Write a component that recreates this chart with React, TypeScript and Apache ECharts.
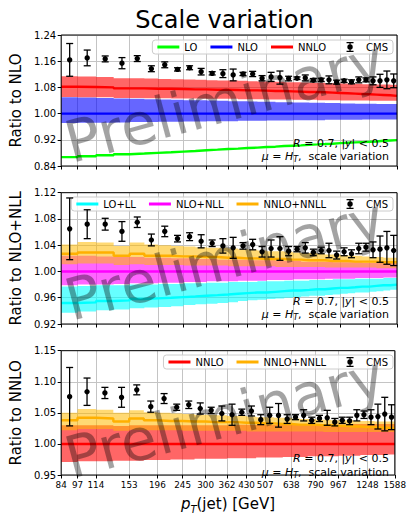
import React, { useEffect, useRef } from 'react';
import * as echarts from 'echarts';

// ---------- data ----------
const ptEdges = [84, 97, 114, 133, 153, 174, 196, 220, 245, 272, 300, 330, 362, 395, 430, 468, 507, 548, 592, 638, 686, 737, 790, 846, 905, 967, 1032, 1101, 1172, 1248, 1327, 1410, 1497, 1588];
const tickLabels = [84, 97, 114, 153, 196, 245, 300, 362, 430, 507, 638, 790, 967, 1248, 1588];

// Panel 1: ratio to NLO
const cms1 = [1.164, 1.170, 1.167, 1.154, 1.168, 1.137, 1.149, 1.135, 1.140, 1.128, 1.123, 1.122, 1.118, 1.121, 1.121, 1.108, 1.112, 1.110, 1.107, 1.108, 1.109, 1.102, 1.103, 1.103, 1.096, 1.100, 1.097, 1.103, 1.103, 1.100, 1.100, 1.103, 1.100];
const cms1Err = [0.050, 0.024, 0.009, 0.017, 0.009, 0.009, 0.009, 0.005, 0.006, 0.010, 0.005, 0.012, 0.018, 0.005, 0.008, 0.008, 0.014, 0.020, 0.007, 0.004, 0.009, 0.005, 0.005, 0.012, 0.006, 0.005, 0.006, 0.009, 0.006, 0.012, 0.020, 0.027, 0.021];
const lo1 = [0.867, 0.870, 0.873, 0.876, 0.878, 0.880, 0.882, 0.884, 0.886, 0.888, 0.890, 0.892, 0.893, 0.895, 0.896, 0.898, 0.899, 0.901, 0.902, 0.903, 0.905, 0.906, 0.907, 0.908, 0.910, 0.911, 0.912, 0.913, 0.914, 0.915, 0.917, 0.918, 0.919];
const nlo1 = [1.000, 1.000, 1.000, 1.000, 1.000, 1.000, 1.000, 1.000, 1.000, 1.000, 1.000, 1.000, 1.000, 1.000, 1.000, 1.000, 1.000, 1.000, 1.000, 1.000, 1.000, 1.000, 1.000, 1.000, 1.000, 1.000, 1.000, 1.000, 1.000, 1.000, 1.000, 1.000, 1.000];
const nlo1Hi = [1.050, 1.049, 1.048, 1.046, 1.045, 1.044, 1.043, 1.042, 1.041, 1.041, 1.040, 1.039, 1.038, 1.038, 1.037, 1.036, 1.036, 1.035, 1.035, 1.034, 1.034, 1.033, 1.033, 1.032, 1.032, 1.031, 1.031, 1.030, 1.030, 1.030, 1.029, 1.029, 1.029];
const nlo1Lo = [0.971, 0.972, 0.972, 0.973, 0.974, 0.974, 0.975, 0.975, 0.976, 0.976, 0.977, 0.977, 0.977, 0.978, 0.978, 0.978, 0.979, 0.979, 0.979, 0.980, 0.980, 0.980, 0.980, 0.981, 0.981, 0.981, 0.981, 0.981, 0.982, 0.982, 0.982, 0.982, 0.982];
const nnlo1 = [1.082, 1.081, 1.080, 1.077, 1.077, 1.076, 1.076, 1.075, 1.074, 1.074, 1.073, 1.073, 1.072, 1.071, 1.071, 1.070, 1.069, 1.069, 1.068, 1.067, 1.066, 1.066, 1.065, 1.064, 1.063, 1.062, 1.061, 1.060, 1.059, 1.058, 1.057, 1.056, 1.054];
const nnlo1Hi = [1.114, 1.113, 1.112, 1.108, 1.108, 1.107, 1.106, 1.105, 1.104, 1.103, 1.102, 1.101, 1.101, 1.100, 1.099, 1.098, 1.098, 1.097, 1.096, 1.096, 1.095, 1.094, 1.094, 1.093, 1.093, 1.092, 1.091, 1.091, 1.090, 1.090, 1.089, 1.089, 1.088];
const nnlo1Lo = [1.051, 1.050, 1.050, 1.048, 1.048, 1.047, 1.047, 1.046, 1.046, 1.046, 1.045, 1.045, 1.045, 1.044, 1.044, 1.044, 1.043, 1.043, 1.043, 1.042, 1.042, 1.042, 1.041, 1.041, 1.041, 1.040, 1.040, 1.040, 1.040, 1.039, 1.039, 1.039, 1.039];

// Panel 2: ratio to NLO+NLL
const cms2 = [1.065, 1.072, 1.072, 1.061, 1.075, 1.048, 1.061, 1.050, 1.053, 1.046, 1.043, 1.039, 1.036, 1.039, 1.041, 1.030, 1.035, 1.035, 1.031, 1.034, 1.036, 1.029, 1.032, 1.032, 1.025, 1.030, 1.027, 1.035, 1.037, 1.033, 1.034, 1.036, 1.032];
const cms2Err = [0.047, 0.022, 0.009, 0.015, 0.008, 0.009, 0.008, 0.005, 0.006, 0.010, 0.005, 0.011, 0.016, 0.005, 0.008, 0.008, 0.013, 0.018, 0.007, 0.004, 0.008, 0.005, 0.005, 0.011, 0.006, 0.006, 0.006, 0.008, 0.006, 0.012, 0.020, 0.025, 0.023];
const ll2 = [0.952, 0.953, 0.955, 0.956, 0.958, 0.959, 0.960, 0.961, 0.962, 0.963, 0.964, 0.965, 0.966, 0.967, 0.968, 0.968, 0.969, 0.970, 0.971, 0.971, 0.972, 0.973, 0.973, 0.974, 0.975, 0.975, 0.976, 0.977, 0.977, 0.978, 0.979, 0.979, 0.980];
const ll2Hi = [0.977, 0.978, 0.979, 0.979, 0.980, 0.980, 0.981, 0.981, 0.982, 0.982, 0.983, 0.983, 0.984, 0.984, 0.984, 0.985, 0.985, 0.985, 0.986, 0.986, 0.986, 0.987, 0.987, 0.987, 0.988, 0.988, 0.988, 0.989, 0.989, 0.989, 0.989, 0.990, 0.990];
const ll2Lo = [0.937, 0.939, 0.941, 0.942, 0.944, 0.945, 0.946, 0.947, 0.949, 0.950, 0.951, 0.952, 0.953, 0.955, 0.956, 0.957, 0.958, 0.959, 0.960, 0.961, 0.962, 0.963, 0.963, 0.964, 0.965, 0.966, 0.967, 0.968, 0.968, 0.969, 0.970, 0.971, 0.972];
const nll2 = [1.000, 1.000, 1.000, 1.000, 1.000, 1.000, 1.000, 1.000, 1.000, 1.000, 1.000, 1.000, 1.000, 1.000, 1.000, 1.000, 1.000, 1.000, 1.000, 1.000, 1.000, 1.000, 1.000, 1.000, 1.000, 1.000, 1.000, 1.000, 1.000, 1.000, 1.000, 1.000, 1.000];
const nll2Hi = [1.024, 1.024, 1.023, 1.022, 1.022, 1.021, 1.021, 1.020, 1.020, 1.019, 1.019, 1.018, 1.018, 1.018, 1.017, 1.017, 1.017, 1.016, 1.016, 1.016, 1.015, 1.015, 1.015, 1.015, 1.014, 1.014, 1.014, 1.014, 1.013, 1.013, 1.013, 1.013, 1.013];
const nll2Lo = [0.979, 0.980, 0.980, 0.981, 0.982, 0.982, 0.983, 0.983, 0.984, 0.984, 0.985, 0.985, 0.985, 0.986, 0.986, 0.986, 0.987, 0.987, 0.987, 0.988, 0.988, 0.988, 0.988, 0.989, 0.989, 0.989, 0.989, 0.990, 0.990, 0.990, 0.990, 0.991, 0.991];
const nnll2 = [1.027, 1.029, 1.029, 1.024, 1.027, 1.024, 1.024, 1.023, 1.023, 1.022, 1.022, 1.021, 1.021, 1.020, 1.020, 1.019, 1.019, 1.019, 1.018, 1.018, 1.017, 1.017, 1.017, 1.016, 1.016, 1.016, 1.015, 1.015, 1.015, 1.015, 1.014, 1.014, 1.014];
const nnll2Hi = [1.041, 1.045, 1.044, 1.039, 1.044, 1.041, 1.040, 1.039, 1.038, 1.037, 1.036, 1.036, 1.035, 1.034, 1.033, 1.032, 1.031, 1.031, 1.030, 1.029, 1.028, 1.028, 1.027, 1.026, 1.026, 1.025, 1.024, 1.024, 1.023, 1.022, 1.022, 1.021, 1.021];
const nnll2Lo = [1.011, 1.012, 1.012, 1.010, 1.011, 1.010, 1.010, 1.010, 1.009, 1.009, 1.009, 1.009, 1.008, 1.008, 1.008, 1.008, 1.008, 1.007, 1.007, 1.007, 1.007, 1.007, 1.007, 1.006, 1.006, 1.006, 1.006, 1.006, 1.006, 1.006, 1.005, 1.005, 1.005];

// Panel 3: ratio to NNLO
const cms3 = [1.076, 1.084, 1.082, 1.075, 1.087, 1.060, 1.073, 1.059, 1.063, 1.057, 1.054, 1.049, 1.047, 1.051, 1.053, 1.039, 1.046, 1.046, 1.040, 1.043, 1.046, 1.038, 1.041, 1.042, 1.035, 1.038, 1.037, 1.046, 1.047, 1.043, 1.044, 1.048, 1.043];
const cms3Err = [0.047, 0.022, 0.009, 0.016, 0.008, 0.009, 0.008, 0.005, 0.006, 0.009, 0.005, 0.012, 0.017, 0.005, 0.008, 0.008, 0.013, 0.019, 0.007, 0.004, 0.009, 0.005, 0.005, 0.012, 0.006, 0.005, 0.006, 0.009, 0.006, 0.012, 0.020, 0.027, 0.020];
const nnlo3 = [1.000, 1.000, 1.000, 1.000, 1.000, 1.000, 1.000, 1.000, 1.000, 1.000, 1.000, 1.000, 1.000, 1.000, 1.000, 1.000, 1.000, 1.000, 1.000, 1.000, 1.000, 1.000, 1.000, 1.000, 1.000, 1.000, 1.000, 1.000, 1.000, 1.000, 1.000, 1.000, 1.000];
const nnlo3Hi = [1.030, 1.030, 1.030, 1.029, 1.030, 1.030, 1.030, 1.030, 1.030, 1.030, 1.030, 1.030, 1.030, 1.031, 1.031, 1.031, 1.031, 1.031, 1.031, 1.031, 1.031, 1.031, 1.031, 1.031, 1.031, 1.031, 1.032, 1.032, 1.032, 1.032, 1.032, 1.032, 1.032];
const nnlo3Lo = [0.971, 0.972, 0.972, 0.973, 0.973, 0.974, 0.974, 0.975, 0.975, 0.976, 0.976, 0.976, 0.977, 0.977, 0.977, 0.978, 0.978, 0.978, 0.979, 0.979, 0.979, 0.980, 0.980, 0.980, 0.980, 0.981, 0.981, 0.981, 0.982, 0.982, 0.982, 0.982, 0.983];
const nnll3 = [1.038, 1.042, 1.041, 1.036, 1.041, 1.038, 1.037, 1.037, 1.036, 1.036, 1.035, 1.035, 1.035, 1.034, 1.034, 1.033, 1.033, 1.032, 1.032, 1.031, 1.031, 1.031, 1.030, 1.030, 1.029, 1.029, 1.028, 1.028, 1.027, 1.027, 1.026, 1.026, 1.025];
const nnll3Hi = [1.050, 1.056, 1.055, 1.050, 1.054, 1.051, 1.050, 1.049, 1.048, 1.047, 1.047, 1.046, 1.045, 1.045, 1.044, 1.043, 1.043, 1.042, 1.042, 1.041, 1.040, 1.040, 1.039, 1.039, 1.038, 1.038, 1.038, 1.037, 1.037, 1.037, 1.036, 1.036, 1.036];
const nnll3Lo = [1.022, 1.024, 1.024, 1.021, 1.023, 1.022, 1.022, 1.022, 1.021, 1.021, 1.021, 1.021, 1.021, 1.021, 1.020, 1.020, 1.020, 1.020, 1.020, 1.020, 1.020, 1.020, 1.020, 1.019, 1.019, 1.019, 1.019, 1.019, 1.019, 1.019, 1.019, 1.019, 1.019];

const yTicks1 = [0.84, 0.92, 1.0, 1.08, 1.16, 1.24];
const yTicks2 = [0.92, 0.96, 1.0, 1.04, 1.08, 1.12];
const yTicks3 = [0.95, 1.0, 1.05, 1.1, 1.15];

// ---------- styling / layout ----------
const FONT = 'DejaVu Sans';
const GRID_LEFT = 52;
const GRID_RIGHT = 12;
const panelTops = [35, 192.7, 350.7];
const panelHeights = [131, 131.3, 130.8];
const C = {
  lo: '#00ff00',
  nlo: '#0000ff', nloBand: 'rgba(0,0,255,0.6)',
  nnlo: '#ff0000', nnloBand: 'rgba(255,0,0,0.6)',
  ll: '#00ffff', llBand: 'rgba(0,255,255,0.6)',
  nll: '#ff00ff', nllBand: 'rgba(255,0,255,0.6)',
  nnll: '#ffb000', nnllBand: 'rgba(255,185,0,0.55)',
};

const lg = (v: number) => Math.log10(v);
const xMin = lg(ptEdges[0]);
const xMax = lg(ptEdges[ptEdges.length - 1]);
const xTickVals = tickLabels.map(lg);

function stepData(vals: number[]) {
  const d = vals.map((v, i) => [lg(ptEdges[i]), v]);
  d.push([lg(ptEdges[ptEdges.length - 1]), vals[vals.length - 1]]);
  return d;
}

// band: one step-shaped polygon per series, computed through the axis scale (api.coord)
function band(idx: number, lo: number[], hi: number[], color: string) {
  const rows = lo.map((l, i) => [lg(ptEdges[i]), lg(ptEdges[i + 1]), l, hi[i]]);
  return {
    type: 'custom', xAxisIndex: idx, yAxisIndex: idx, silent: true, z: 1,
    data: rows,
    encode: { x: [0, 1], y: [2, 3] },
    renderItem: (params: any, api: any) => {
      if (params.dataIndex !== 0) return null;
      const top: number[][] = [];
      const bot: number[][] = [];
      rows.forEach((r) => {
        top.push(api.coord([r[0], r[3]]));
        top.push(api.coord([r[1], r[3]]));
        bot.push(api.coord([r[0], r[2]]));
        bot.push(api.coord([r[1], r[2]]));
      });
      const pts = top.concat(bot.reverse());
      return { type: 'polygon', shape: { points: pts }, style: { fill: color, stroke: 'none' } };
    },
  };
}

function line(idx: number, name: string, vals: number[], color: string) {
  return {
    type: 'line', name, xAxisIndex: idx, yAxisIndex: idx, step: 'end', data: stepData(vals),
    symbol: 'none', lineStyle: { color, width: 2.4 }, itemStyle: { color }, z: 3, silent: true,
  };
}

function cms(idx: number, vals: number[], errs: number[]) {
  return {
    type: 'custom', name: 'CMS', xAxisIndex: idx, yAxisIndex: idx, itemStyle: { color: '#000' }, z: 5,
    data: vals.map((v, i) => [lg((ptEdges[i] + ptEdges[i + 1]) / 2), v, v - errs[i], v + errs[i]]),
    encode: { x: 0, y: [1, 2, 3] },
    renderItem: (params: any, api: any) => {
      const x = api.value(0);
      const c = api.coord([x, api.value(1)]);
      const cl = api.coord([x, api.value(2)]);
      const ch = api.coord([x, api.value(3)]);
      const st = { stroke: '#000', lineWidth: 1.3 };
      return {
        type: 'group',
        children: [
          { type: 'line', shape: { x1: c[0], y1: cl[1], x2: c[0], y2: ch[1] }, style: st },
          { type: 'line', shape: { x1: c[0] - 3.5, y1: ch[1], x2: c[0] + 3.5, y2: ch[1] }, style: st },
          { type: 'line', shape: { x1: c[0] - 3.5, y1: cl[1], x2: c[0] + 3.5, y2: cl[1] }, style: st },
          { type: 'circle', shape: { cx: c[0], cy: c[1], r: 2.7 }, style: { fill: '#000' } },
        ],
      };
    },
  };
}

const lineIcon = 'path://M0,0M0,3.5L22,3.5L22,6.5L0,6.5ZM22,10';
const cmsIcon = 'path://M0,0M10.4,0L11.6,0L11.6,2.6L10.4,2.6ZM10.4,7.4L11.6,7.4L11.6,10L10.4,10ZM7.5,0L14.5,0L14.5,1.2L7.5,1.2ZM7.5,8.8L14.5,8.8L14.5,10L7.5,10ZM13.7,5A2.7,2.7,0,1,1,8.3,5A2.7,2.7,0,1,1,13.7,5ZM22,10';

function legend(names: string[], top: number) {
  return {
    selectedMode: false,
    orient: 'horizontal',
    right: 16,
    top,
    itemWidth: 22,
    itemHeight: 10,
    itemGap: 13,
    padding: [2, 5],
    backgroundColor: 'rgba(255,255,255,0.8)',
    borderColor: '#cccccc',
    borderWidth: 1,
    borderRadius: 3,
    itemStyle: { borderWidth: 0 },
    textStyle: { fontSize: 10, fontFamily: FONT, color: '#000' },
    data: names.map((n) => ({ name: n, icon: n === 'CMS' ? cmsIcon : lineIcon })),
  };
}

export default function App() {
  const ref = useRef<HTMLDivElement>(null);
  useEffect(() => {
    if (!ref.current) return;
    const chart = echarts.init(ref.current, undefined, { renderer: 'svg' });
    const yTickSets = [yTicks1, yTicks2, yTicks3];
    const yNames = ['Ratio to NLO', 'Ratio to NLO+NLL', 'Ratio to NNLO'];

    const grids = panelTops.map((t, i) => ({
      left: GRID_LEFT, right: GRID_RIGHT, top: t, height: panelHeights[i],
      show: true, borderColor: '#000', borderWidth: 1, backgroundColor: 'transparent', z: 10,
    }));

    const xAxes = [0, 1, 2].map((i) => ({
      type: 'value', gridIndex: i, min: xMin, max: xMax,
      axisLine: { show: false },
      axisTick: { show: true, customValues: xTickVals, length: 3.5, lineStyle: { color: '#000', width: 1 } },
      axisLabel: {
        show: i === 2, customValues: xTickVals, margin: 5, fontSize: 8.8, fontFamily: FONT, color: '#000',
        formatter: (v: number) => String(Math.round(Math.pow(10, v))),
      },
      splitLine: { show: true, lineStyle: { color: '#c4c4c4', width: 1 } },
      name: i === 2 ? '{i|p}{s|T}(jet) [GeV]' : '',
      nameLocation: 'middle',
      nameGap: 19,
      nameTextStyle: {
        fontSize: 15, fontFamily: FONT, color: '#000', lineHeight: 20,
        rich: {
          i: { fontSize: 15, fontStyle: 'italic', fontFamily: FONT, color: '#000', lineHeight: 20 },
          s: { fontSize: 10, fontStyle: 'italic', fontFamily: FONT, color: '#000', lineHeight: 10, verticalAlign: 'bottom' },
        },
      },
    }));

    const yAxes = [0, 1, 2].map((i) => {
      const ticks = yTickSets[i];
      return {
        type: 'value', gridIndex: i, min: ticks[0], max: ticks[ticks.length - 1],
        axisLine: { show: false },
        axisTick: { show: true, customValues: ticks, length: 3.5, lineStyle: { color: '#000', width: 1 } },
        axisLabel: {
          customValues: ticks, margin: 5, fontSize: 10, fontFamily: FONT, color: '#000',
          formatter: (v: number) => v.toFixed(2),
        },
        splitLine: { show: true, lineStyle: { color: '#c4c4c4', width: 1 } },
        name: yNames[i], nameLocation: 'middle', nameGap: 31,
        nameTextStyle: { fontSize: 15, fontFamily: FONT, color: '#000' },
      };
    });

    const series: any[] = [
      // panel 1
      line(0, 'LO', lo1, C.lo),
      band(0, nlo1Lo, nlo1Hi, C.nloBand),
      line(0, 'NLO', nlo1, C.nlo),
      band(0, nnlo1Lo, nnlo1Hi, C.nnloBand),
      line(0, 'NNLO', nnlo1, C.nnlo),
      cms(0, cms1, cms1Err),
      // panel 2
      band(1, ll2Lo, ll2Hi, C.llBand),
      line(1, 'LO+LL', ll2, C.ll),
      band(1, nll2Lo, nll2Hi, C.nllBand),
      line(1, 'NLO+NLL', nll2, C.nll),
      band(1, nnll2Lo, nnll2Hi, C.nnllBand),
      line(1, 'NNLO+NNLL', nnll2, C.nnll),
      cms(1, cms2, cms2Err),
      // panel 3
      band(2, nnlo3Lo, nnlo3Hi, C.nnloBand),
      line(2, 'NNLO', nnlo3, C.nnlo),
      band(2, nnll3Lo, nnll3Hi, C.nnllBand),
      line(2, 'NNLO+NNLL', nnll3, C.nnll),
      cms(2, cms3, cms3Err),
    ];

    const annoRich = {
      i: { fontSize: 11, fontStyle: 'italic', fontFamily: FONT, fill: '#000' },
      s: { fontSize: 8, fontStyle: 'italic', fontFamily: FONT, fill: '#000', lineHeight: 8, verticalAlign: 'bottom' },
    };
    const cx = GRID_LEFT + (409 - GRID_LEFT - GRID_RIGHT) / 2;
    const graphics: any[] = [
      {
        type: 'text', x: cx, y: 20, z: 100,
        style: { text: 'Scale variation', fontSize: 24, fontFamily: FONT, fill: '#000', align: 'center', verticalAlign: 'middle' },
      },
    ];
    panelTops.forEach((t, i) => {
      const bottom = t + panelHeights[i];
      graphics.push({
        type: 'text', x: cx, y: t + panelHeights[i] / 2 + 1, rotation: (15 * Math.PI) / 180, z: 100, silent: true,
        style: { text: 'Preliminary', fontSize: 58, fontFamily: FONT, fill: 'rgba(0,0,0,0.36)', align: 'center', verticalAlign: 'middle' },
      });
      graphics.push({
        type: 'text', x: 389, y: bottom - 23, z: 100,
        style: { text: '{i|R} = 0.7, |{i|y}| < 0.5', rich: annoRich, fontSize: 11, fontFamily: FONT, fill: '#000', lineHeight: 14, align: 'right', verticalAlign: 'middle' },
      });
      graphics.push({
        type: 'text', x: 389, y: bottom - 9.5, z: 100,
        style: { text: '{i|μ} = {i|H}{s|T},  scale variation', rich: annoRich, fontSize: 11, fontFamily: FONT, fill: '#000', lineHeight: 14, align: 'right', verticalAlign: 'middle' },
      });
    });

    chart.setOption({
      animation: false,
      backgroundColor: '#ffffff',
      textStyle: { fontFamily: FONT },
      grid: grids,
      xAxis: xAxes,
      yAxis: yAxes,
      legend: [
        legend(['LO', 'NLO', 'NNLO', 'CMS'], 40),
        legend(['LO+LL', 'NLO+NLL', 'NNLO+NNLL', 'CMS'], 197),
        legend(['NNLO', 'NNLO+NNLL', 'CMS'], 355),
      ],
      series,
      graphic: graphics,
    });
    return () => chart.dispose();
  }, []);
  return <div ref={ref} style={{ position: 'absolute', left: 0, top: 0, width: 409, height: 515 }} />;
}
